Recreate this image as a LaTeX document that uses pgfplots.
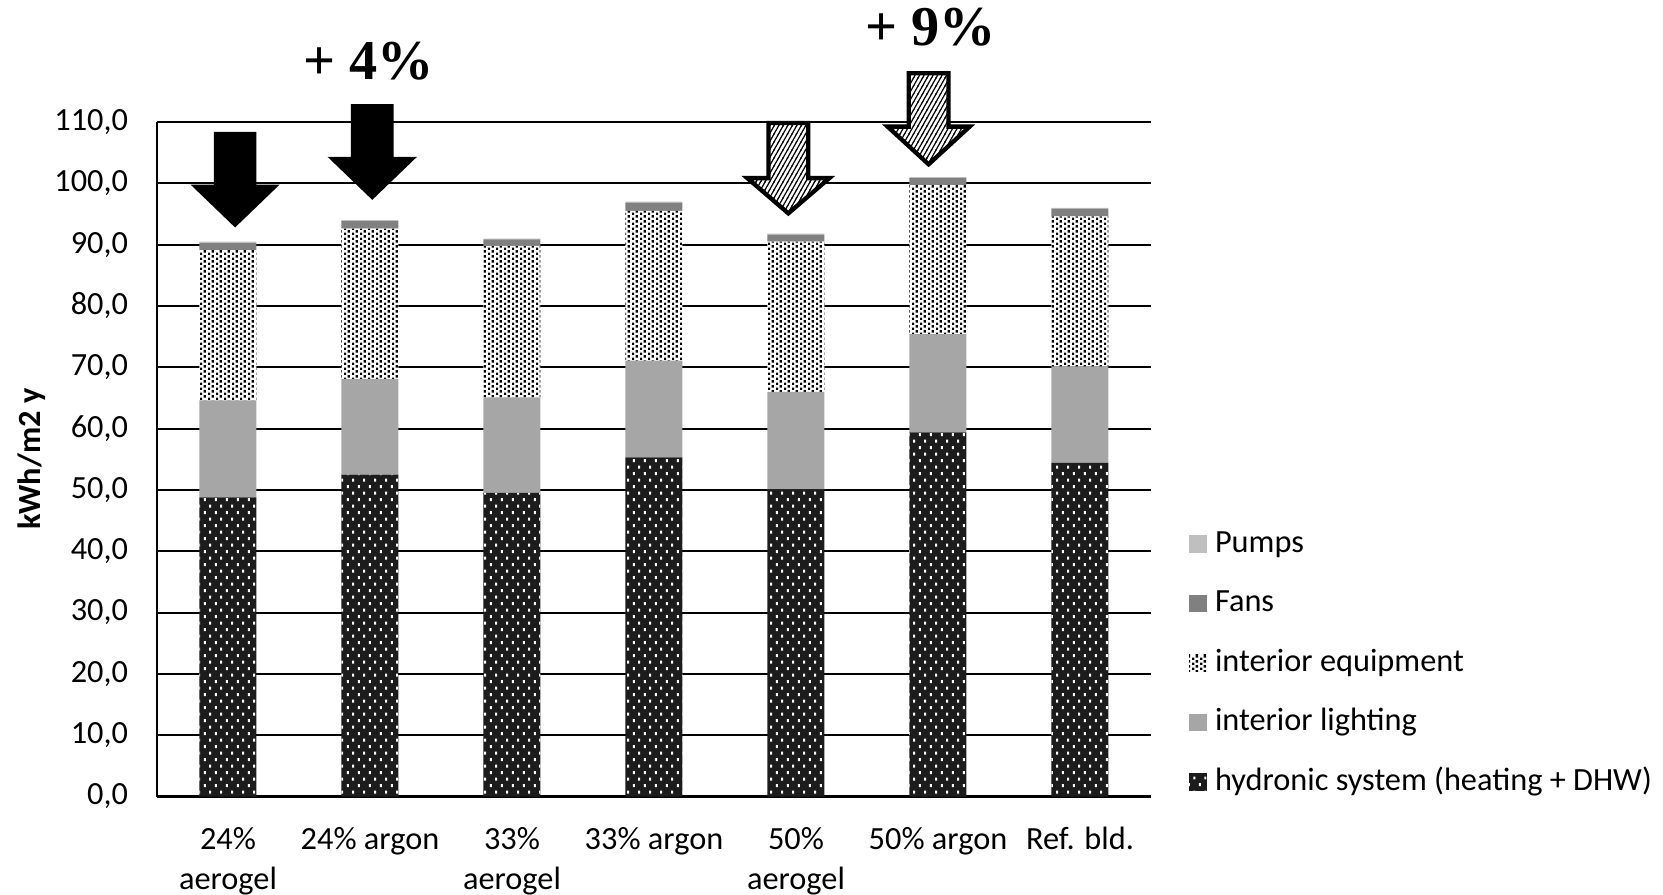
\documentclass[border=0pt]{standalone}
\usepackage{pgfplots}
\pgfplotsset{compat=1.18}
\usepackage{fontspec}
\setmainfont{Carlito}
\newfontfamily\headfont{Liberation Serif}
\usetikzlibrary{patterns,patterns.meta}

\definecolor{hydro}{HTML}{1C1C1C}
\definecolor{lighting}{HTML}{A6A6A6}
\definecolor{fans}{HTML}{808080}
\definecolor{pumps}{HTML}{BFBFBF}

% white specks on the dark hydronic segment
\tikzdeclarepattern{
  name=sparse dots,
  type=uncolored,
  bottom left={(0mm,0mm)},
  top right={(1.07mm,1.34mm)},
  tile size={(1.07mm,1.34mm)},
  code={
    \pgfpathrectangle{\pgfpoint{0.1mm}{0.1mm}}{\pgfpoint{0.2mm}{0.3mm}}
    \pgfpathrectangle{\pgfpoint{0.635mm}{0.77mm}}{\pgfpoint{0.2mm}{0.3mm}}
    \pgfusepath{fill}
  }
}
% dense black dots for interior equipment
\tikzdeclarepattern{
  name=fine dots,
  type=uncolored,
  bottom left={(0mm,0mm)},
  top right={(0.8mm,0.5mm)},
  tile size={(0.8mm,0.5mm)},
  code={
    \pgfpathrectangle{\pgfpoint{0mm}{0mm}}{\pgfpoint{0.25mm}{0.25mm}}
    \pgfpathrectangle{\pgfpoint{0.4mm}{0.25mm}}{\pgfpoint{0.25mm}{0.25mm}}
    \pgfusepath{fill}
  }
}
% steep hatching for the outlined arrows
\tikzdeclarepattern{
  name=steep lines,
  type=uncolored,
  bottom left={(-0.1mm,-0.1mm)},
  top right={(0.55mm,0.9mm)},
  tile size={(0.45mm,0.8mm)},
  code={
    \pgfsetlinewidth{0.12mm}
    \pgfpathmoveto{\pgfpoint{-0.05625mm}{-0.1mm}}
    \pgfpathlineto{\pgfpoint{0.50625mm}{0.9mm}}
    \pgfusepath{stroke}
  }
}

% energy use per category, kWh/m2 y
\pgfplotstableread{
x hydronic lighting equipment fans pumps
0 48.8 15.8 24.5 1.25 0.15
1 52.5 15.6 24.5 1.25 0.15
2 49.5 15.6 24.7 1.05 0.15
3 55.3 15.8 24.4 1.35 0.15
4 50.1 15.9 24.5 1.15 0.15
5 59.4 16.0 24.3 1.15 0.15
6 54.4 15.7 24.5 1.25 0.15
}\energy

\begin{document}
\begin{tikzpicture}
\useasboundingbox (-15.7mm,-9.75mm) rectangle (150.6mm,79.65mm);
\begin{axis}[
  at={(0,0)}, anchor=south west,
  scale only axis, width=99.4mm, height=67.45mm,
  ybar stacked, bar width=5.7mm,
  xmin=-0.5, xmax=6.5, ymin=0, ymax=110,
  xtick={0,...,6},
  xticklabels={{24\%\\aerogel},{24\% argon},{33\%\\aerogel},{33\% argon},{50\%\\aerogel},{50\% argon},{Ref. bld.}},
  ytick={0,10,20,30,40,50,60,70,80,90,100,110},
  yticklabel={\pgfmathprintnumber[fixed,fixed zerofill,precision=1,use comma,assume math mode=true]{\tick}},
  axis lines=left, axis line style={-, black, line width=0.6pt},
  ymajorgrids, grid style={black, line width=0.6pt},
  major tick length=0pt,
  clip=false,
  tick label style={font=\fontsize{9.2}{11.4}\selectfont, text=black},
  xticklabel style={align=center, yshift=-1.85mm},
  yticklabel style={xshift=-1.65mm},
  ylabel={\bfseries kWh/m2 y},
  every axis y label/.style={at={(axis description cs:-0.1258,0.5)}, rotate=90, anchor=center, font=\fontsize{9.2}{11}\selectfont},
  reverse legend,
  legend cell align=left,
  legend image code/.code={\fill[#1] (0mm,-0.95mm) rectangle (1.77mm,0.82mm);},
  legend style={draw=none, fill=none, at={(axis description cs:0,0)}, anchor=south west,
    xshift=103.2mm, yshift=-0.25mm, inner sep=0pt, outer sep=0pt, row sep=2.44mm,
    font=\fontsize{9.2}{11}\selectfont,
    nodes={inner xsep=0.83mm, inner ysep=0pt, text height=0.75em, text depth=0.25em}},
]
\addplot[draw=none, fill=hydro, postaction={pattern=sparse dots, pattern color=white}] table[x=x, y=hydronic] {\energy};
\addlegendentry{hydronic system (heating + DHW)}
\addplot[draw=none, fill=lighting] table[x=x, y=lighting] {\energy};
\addlegendentry{interior lighting}
\addplot[draw=none, fill=white, postaction={pattern=fine dots, pattern color=black}] table[x=x, y=equipment] {\energy};
\addlegendentry{interior equipment}
\addplot[draw=none, fill=fans] table[x=x, y=fans] {\energy};
\addlegendentry{Fans}
\addplot[draw=none, fill=pumps] table[x=x, y=pumps] {\energy};
\addlegendentry{Pumps}

% solid arrows over the aerogel / argon pair at 24 %
\fill[black] (axis cs:-0.10,108.4) -- (axis cs:0.20,108.4) -- (axis cs:0.20,99.8) -- (axis cs:0.364,99.8)
  -- (axis cs:0.05,92.8) -- (axis cs:-0.264,99.8) -- (axis cs:-0.10,99.8) -- cycle;
\fill[black] (axis cs:0.866,112.9) -- (axis cs:1.166,112.9) -- (axis cs:1.166,104.3) -- (axis cs:1.33,104.3)
  -- (axis cs:1.016,97.3) -- (axis cs:0.702,104.3) -- (axis cs:0.866,104.3) -- cycle;
% hatched arrows over the pair at 50 %
\filldraw[fill=white, draw=black, line width=0.43mm, miter limit=4,
  postaction={pattern=steep lines, pattern color=black}]
  (axis cs:3.806,109.85) -- (axis cs:4.086,109.85) -- (axis cs:4.086,100.85) -- (axis cs:4.235,100.85)
  -- (axis cs:3.946,95.1) -- (axis cs:3.657,100.85) -- (axis cs:3.806,100.85) -- cycle;
\filldraw[fill=white, draw=black, line width=0.43mm, miter limit=4,
  postaction={pattern=steep lines, pattern color=black}]
  (axis cs:4.794,117.95) -- (axis cs:5.074,117.95) -- (axis cs:5.074,109.25) -- (axis cs:5.223,109.25)
  -- (axis cs:4.934,103.1) -- (axis cs:4.645,109.25) -- (axis cs:4.794,109.25) -- cycle;

\node[font=\headfont\bfseries\fontsize{16}{19}\selectfont] at (axis cs:0.988,120.0) {+ 4\%};
\node[font=\headfont\bfseries\fontsize{16}{19}\selectfont] at (axis cs:4.95,125.4) {+ 9\%};
\end{axis}
\end{tikzpicture}
\end{document}
